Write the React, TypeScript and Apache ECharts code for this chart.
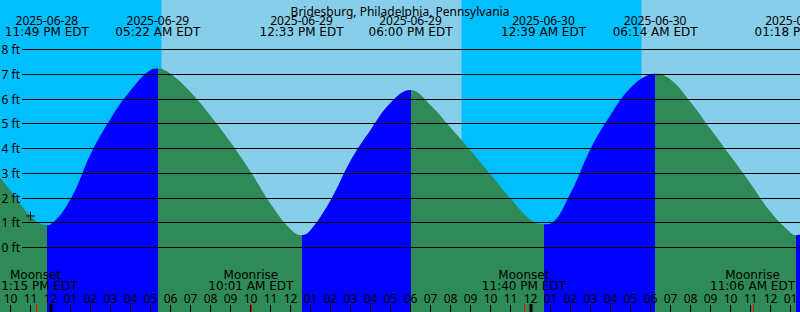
import React, { useEffect, useRef } from "react";
import * as echarts from "echarts";

// Time unit: hours since 2025-06-28 00:00 EDT
const stationName = "Bridesburg, Philadelphia, Pennsylvania";

// hourly readings of the tide curve, plus the high / low points
const tideTimes = [
  21, 22, 23, 23.817,
  24, 25, 26, 27, 28, 29, 29.367,
  30, 31, 32, 33, 34, 35, 36, 36.55,
  37, 38, 39, 40, 41, 42,
  43, 44, 45, 46, 47, 48, 48.65,
  49, 50, 51, 52, 53, 54, 54.233,
  55, 56, 57, 58, 59, 60, 61, 61.3, 62,
];
const tideHeights = [
  3.3, 2.3, 1.27, 0.9,
  0.93, 1.95, 3.76, 5.2, 6.34, 7.17, 7.23,
  7.02, 6.28, 5.32, 4.25, 3.07, 1.77, 0.74, 0.5,
  0.7, 1.91, 3.51, 4.75, 5.85, 6.36,
  5.75, 4.85, 3.92, 2.95, 1.98, 1.12, 0.94,
  0.97, 2.19, 3.98, 5.35, 6.45, 7.0, 7.02,
  6.79, 5.88, 4.79, 3.7, 2.59, 1.44, 0.6, 0.5, 0.8,
];

const extremeTimes = [23.817, 29.367, 36.55, 42.0, 48.65, 54.233, 61.3];
const extremeDates = [
  "2025-06-28", "2025-06-29", "2025-06-29", "2025-06-29",
  "2025-06-30", "2025-06-30", "2025-06-30",
];
const extremeClock = [
  "11:49 PM EDT", "05:22 AM EDT", "12:33 PM EDT", "06:00 PM EDT",
  "12:39 AM EDT", "06:14 AM EDT", "01:18 PM EDT",
];

const nightStarts = [20.55, 44.55];
const nightEnds = [29.55, 53.55];

const moonTimes = [23.25, 34.017, 47.667, 59.1];
const moonNames = ["Moonset", "Moonrise", "Moonset", "Moonrise"];
const moonClock = ["11:15 PM EDT", "10:01 AM EDT", "11:40 PM EDT", "11:06 AM EDT"];

const feetLevels = [0, 1, 2, 3, 4, 5, 6, 7, 8];
const midnightTimes = [24, 48];

const nowTime = 23.0;
const nowHeight = 1.27;

const X_MIN = 21;
const X_MAX = 62;

const FAMILY = "Noto Sans";
const FONT = '12px "Noto Sans"';
const FONT_WIDE = '12px "DejaVu Sans"';
const DAY = "#87CEEB";
const NIGHT = "#00BFFF";
const FLOOD = "#0000FF";
const EBB = "#2E8B57";

function hourLabel(v: number): string {
  const h = ((Math.round(v) % 24) + 24) % 24;
  const h12 = h % 12 === 0 ? 12 : h % 12;
  return h12 < 10 ? "0" + h12 : String(h12);
}

function centeredText(x: number, y: number, text: string, font: string) {
  return {
    type: "text",
    x,
    y,
    style: {
      text,
      font,
      fill: "#000",
      align: "center",
      textAlign: "center",
      verticalAlign: "middle",
      textVerticalAlign: "middle",
    },
  };
}

export default function App() {
  const ref = useRef<HTMLDivElement>(null);

  useEffect(() => {
    document.body.style.margin = "0";
    if (!ref.current) return;
    const chart = echarts.init(ref.current, null, { renderer: "svg" });

    const pieces: any[] = [];
    pieces.push({ lt: extremeTimes[0], color: EBB });
    for (let i = 0; i < extremeTimes.length - 1; i++) {
      pieces.push({
        gte: extremeTimes[i],
        lt: extremeTimes[i + 1],
        color: i % 2 === 0 ? FLOOD : EBB,
      });
    }
    pieces.push({
      gte: extremeTimes[extremeTimes.length - 1],
      color: (extremeTimes.length - 1) % 2 === 0 ? FLOOD : EBB,
    });

    const tideData = tideTimes.map((t, i) => [t, tideHeights[i]]);
    const crisp = (v: number) => Math.round(v - 0.5) + 0.5;

    const option: any = {
      animation: false,
      backgroundColor: DAY,
      title: {
        text: stationName,
        left: "center",
        top: 0,
        textStyle: { fontSize: 12, fontWeight: "normal", color: "#000", fontFamily: FAMILY },
      },
      grid: {
        left: -9.5,
        right: -10.5,
        top: 0,
        bottom: 0,
        containLabel: false,
        outerBoundsMode: "none",
      },
      xAxis: {
        type: "value",
        min: X_MIN,
        max: X_MAX,
        interval: 1,
        z: 20,
        axisLine: { show: false, onZero: false },
        axisTick: { show: true, inside: true, length: 7, lineStyle: { color: "#000", width: 1 } },
        axisLabel: {
          show: true,
          inside: true,
          margin: 8,
          color: "#000",
          fontSize: 12,
          fontFamily: FAMILY,
          hideOverlap: false,
          formatter: (v: number) => hourLabel(v),
        },
        splitLine: { show: false },
      },
      yAxis: {
        type: "value",
        min: -2.606,
        max: 10,
        show: false,
        splitLine: { show: false },
      },
      visualMap: {
        show: false,
        type: "piecewise",
        dimension: 0,
        seriesIndex: 0,
        pieces,
      },
      series: [
        {
          type: "line",
          data: tideData,
          smooth: 0.4,
          symbol: "none",
          lineStyle: { width: 0, opacity: 0 },
          areaStyle: { opacity: 1, origin: "start" },
          z: 3,
          markArea: {
            silent: true,
            z: 1,
            itemStyle: { color: NIGHT, opacity: 1 },
            data: nightStarts.map((s, i) => [
              { xAxis: Math.max(s, X_MIN) },
              { xAxis: Math.min(nightEnds[i], X_MAX) },
            ]),
          },
        },
        {
          type: "custom",
          z: 10,
          silent: true,
          data: feetLevels.map((v) => [X_MIN, v]),
          renderItem: (params: any, api: any) => {
            const v = api.value(1);
            const y = crisp(api.coord([X_MIN, v])[1]);
            return {
              type: "group",
              children: [
                {
                  type: "line",
                  shape: { x1: 22, y1: y, x2: 800, y2: y },
                  style: { stroke: "#000", lineWidth: 1 },
                },
                {
                  type: "text",
                  x: 20,
                  y: y,
                  style: {
                    text: v + " ft",
                    font: FONT,
                    fill: "#000",
                    align: "right",
                    textAlign: "right",
                    verticalAlign: "middle",
                    textVerticalAlign: "middle",
                  },
                },
              ],
            };
          },
        },
        {
          type: "custom",
          z: 10,
          silent: true,
          data: extremeTimes.map((t, i) => [t, i]),
          renderItem: (params: any, api: any) => {
            const i = api.value(1);
            const x = api.coord([api.value(0), 0])[0];
            return {
              type: "group",
              children: [
                centeredText(x, 20, extremeDates[i], FONT),
                centeredText(x, 31.5, extremeClock[i], FONT_WIDE),
              ],
            };
          },
        },
        {
          type: "custom",
          z: 11,
          silent: true,
          data: moonTimes.map((t, i) => [t, i]),
          renderItem: (params: any, api: any) => {
            const i = api.value(1);
            const x = api.coord([api.value(0), 0])[0];
            return {
              type: "group",
              children: [
                centeredText(x, 274.5, moonNames[i], FONT_WIDE),
                centeredText(x, 285.5, moonClock[i], FONT_WIDE),
                {
                  type: "rect",
                  shape: { x: Math.round(x), y: 304, width: 1, height: 8 },
                  style: { fill: "#FF0000" },
                },
              ],
            };
          },
        },
        {
          type: "custom",
          z: 11,
          silent: true,
          data: midnightTimes.map((t) => [t, 0]),
          renderItem: (params: any, api: any) => {
            const x = api.coord([api.value(0), 0])[0];
            return {
              type: "rect",
              shape: { x: Math.round(x) - 1.5, y: 304, width: 3, height: 8 },
              style: { fill: "#000" },
            };
          },
        },
        {
          type: "scatter",
          z: 12,
          silent: true,
          data: [[nowTime, nowHeight]],
          symbol: "path://M4,0h1v4h4v1h-4v4h-1v-4h-4v-1h4z",
          symbolSize: 9,
          itemStyle: { color: "#000", opacity: 1 },
        },
      ],
    };

    chart.setOption(option);
    return () => {
      chart.dispose();
    };
  }, []);

  return <div ref={ref} style={{ width: 800, height: 312 }} />;
}
